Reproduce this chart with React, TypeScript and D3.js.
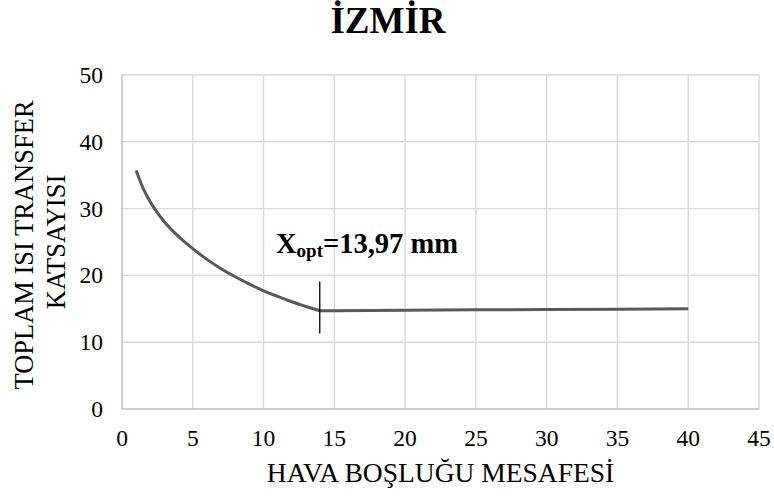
import React from "react";
import * as d3 from "d3";

const titleText = "İZMİR";
const xAxisTitle = "HAVA BOŞLUĞU MESAFESİ";
const yAxisTitleLines = ["TOPLAM ISI TRANSFER", "KATSAYISI"];
const xTicks = [0, 5, 10, 15, 20, 25, 30, 35, 40, 45];
const yTicks = [0, 10, 20, 30, 40, 50];
const xValues = [1, 1.5, 2, 2.5, 3, 4, 5, 6, 7, 8, 9, 10, 11, 12, 13, 13.97, 15, 20, 25, 30, 35, 40];
const yValues = [35.7, 33.0, 31.0, 29.4, 28.0, 25.8, 24.0, 22.4, 21.0, 19.8, 18.7, 17.7, 16.85, 16.05, 15.35, 14.7, 14.72, 14.78, 14.84, 14.9, 14.95, 15.0];
const optX = 13.97;
const markerRange = [11.3, 19.1];
const annotationMain = "X";
const annotationSub = "opt";
const annotationRest = "=13,97 mm";

const W = 774;
const H = 498;
const left = 122;
const right = 759;
const top = 75;
const bottom = 409;

export default function App() {
  const x = d3.scaleLinear().domain([0, 45]).range([left, right]);
  const y = d3.scaleLinear().domain([0, 50]).range([bottom, top]);

  const pts: [number, number][] = xValues.map((v, i) => [v, yValues[i]]);
  const curvePts = pts.filter((p) => p[0] <= optX);
  const flatPts = pts.filter((p) => p[0] >= optX);
  const curveGen = d3
    .line<[number, number]>()
    .x((d) => x(d[0]))
    .y((d) => y(d[1]))
    .curve(d3.curveMonotoneX);
  const flatGen = d3
    .line<[number, number]>()
    .x((d) => x(d[0]))
    .y((d) => y(d[1]));
  const path = (curveGen(curvePts) || "") + (flatGen(flatPts) || "").replace(/^M/, "L");

  const serif = "'Liberation Serif', 'Times New Roman', serif";

  return (
    <svg
      width={W}
      height={H}
      style={{ position: "absolute", left: 0, top: 0, background: "#fff" }}
      fontFamily={serif}
    >
      <rect x={0} y={0} width={W} height={H} fill="#fff" />
      <text x={388} y={33} textAnchor="middle" fontSize={37} fontWeight="bold" fill="#000">
        {titleText}
      </text>
      {yTicks
        .filter((t) => t > 0)
        .map((t) => (
          <line key={"gy" + t} x1={left} x2={right} y1={y(t)} y2={y(t)} stroke="#d9d9d9" strokeWidth={1.4} />
        ))}
      {xTicks
        .filter((t) => t > 0)
        .map((t) => (
          <line key={"gx" + t} x1={x(t)} x2={x(t)} y1={top} y2={bottom} stroke="#d9d9d9" strokeWidth={1.4} />
        ))}
      <line x1={left} x2={left} y1={top} y2={bottom} stroke="#bfbfbf" strokeWidth={1.5} />
      <line x1={left} x2={right} y1={bottom} y2={bottom} stroke="#bfbfbf" strokeWidth={1.5} />
      {yTicks.map((t) => (
        <text key={"ty" + t} x={103} y={y(t) + 8} textAnchor="end" fontSize={23.5} fill="#000">
          {t}
        </text>
      ))}
      {xTicks.map((t) => (
        <text key={"tx" + t} x={x(t)} y={446} textAnchor="middle" fontSize={23.5} fill="#000">
          {t}
        </text>
      ))}
      <text x={(left + right) / 2} y={482} textAnchor="middle" fontSize={27.5} fill="#000">
        {xAxisTitle}
      </text>
      <text transform={`translate(33,245) rotate(-90)`} textAnchor="middle" fontSize={26.5} fill="#000">
        {yAxisTitleLines[0]}
      </text>
      <text transform={`translate(65,242) rotate(-90)`} textAnchor="middle" fontSize={26.5} fill="#000">
        {yAxisTitleLines[1]}
      </text>
      <path d={path} fill="none" stroke="#595959" strokeWidth={3} strokeLinejoin="round" />
      <line x1={x(optX)} x2={x(optX)} y1={y(markerRange[1])} y2={y(markerRange[0])} stroke="#000" strokeWidth={1.3} />
      <text x={276} y={253} fontSize={28.5} fontWeight="bold" fill="#000">
        {annotationMain}
        <tspan fontSize={19} dy={4}>{annotationSub}</tspan>
        <tspan fontSize={28.5} dy={-4}>{annotationRest}</tspan>
      </text>
    </svg>
  );
}
